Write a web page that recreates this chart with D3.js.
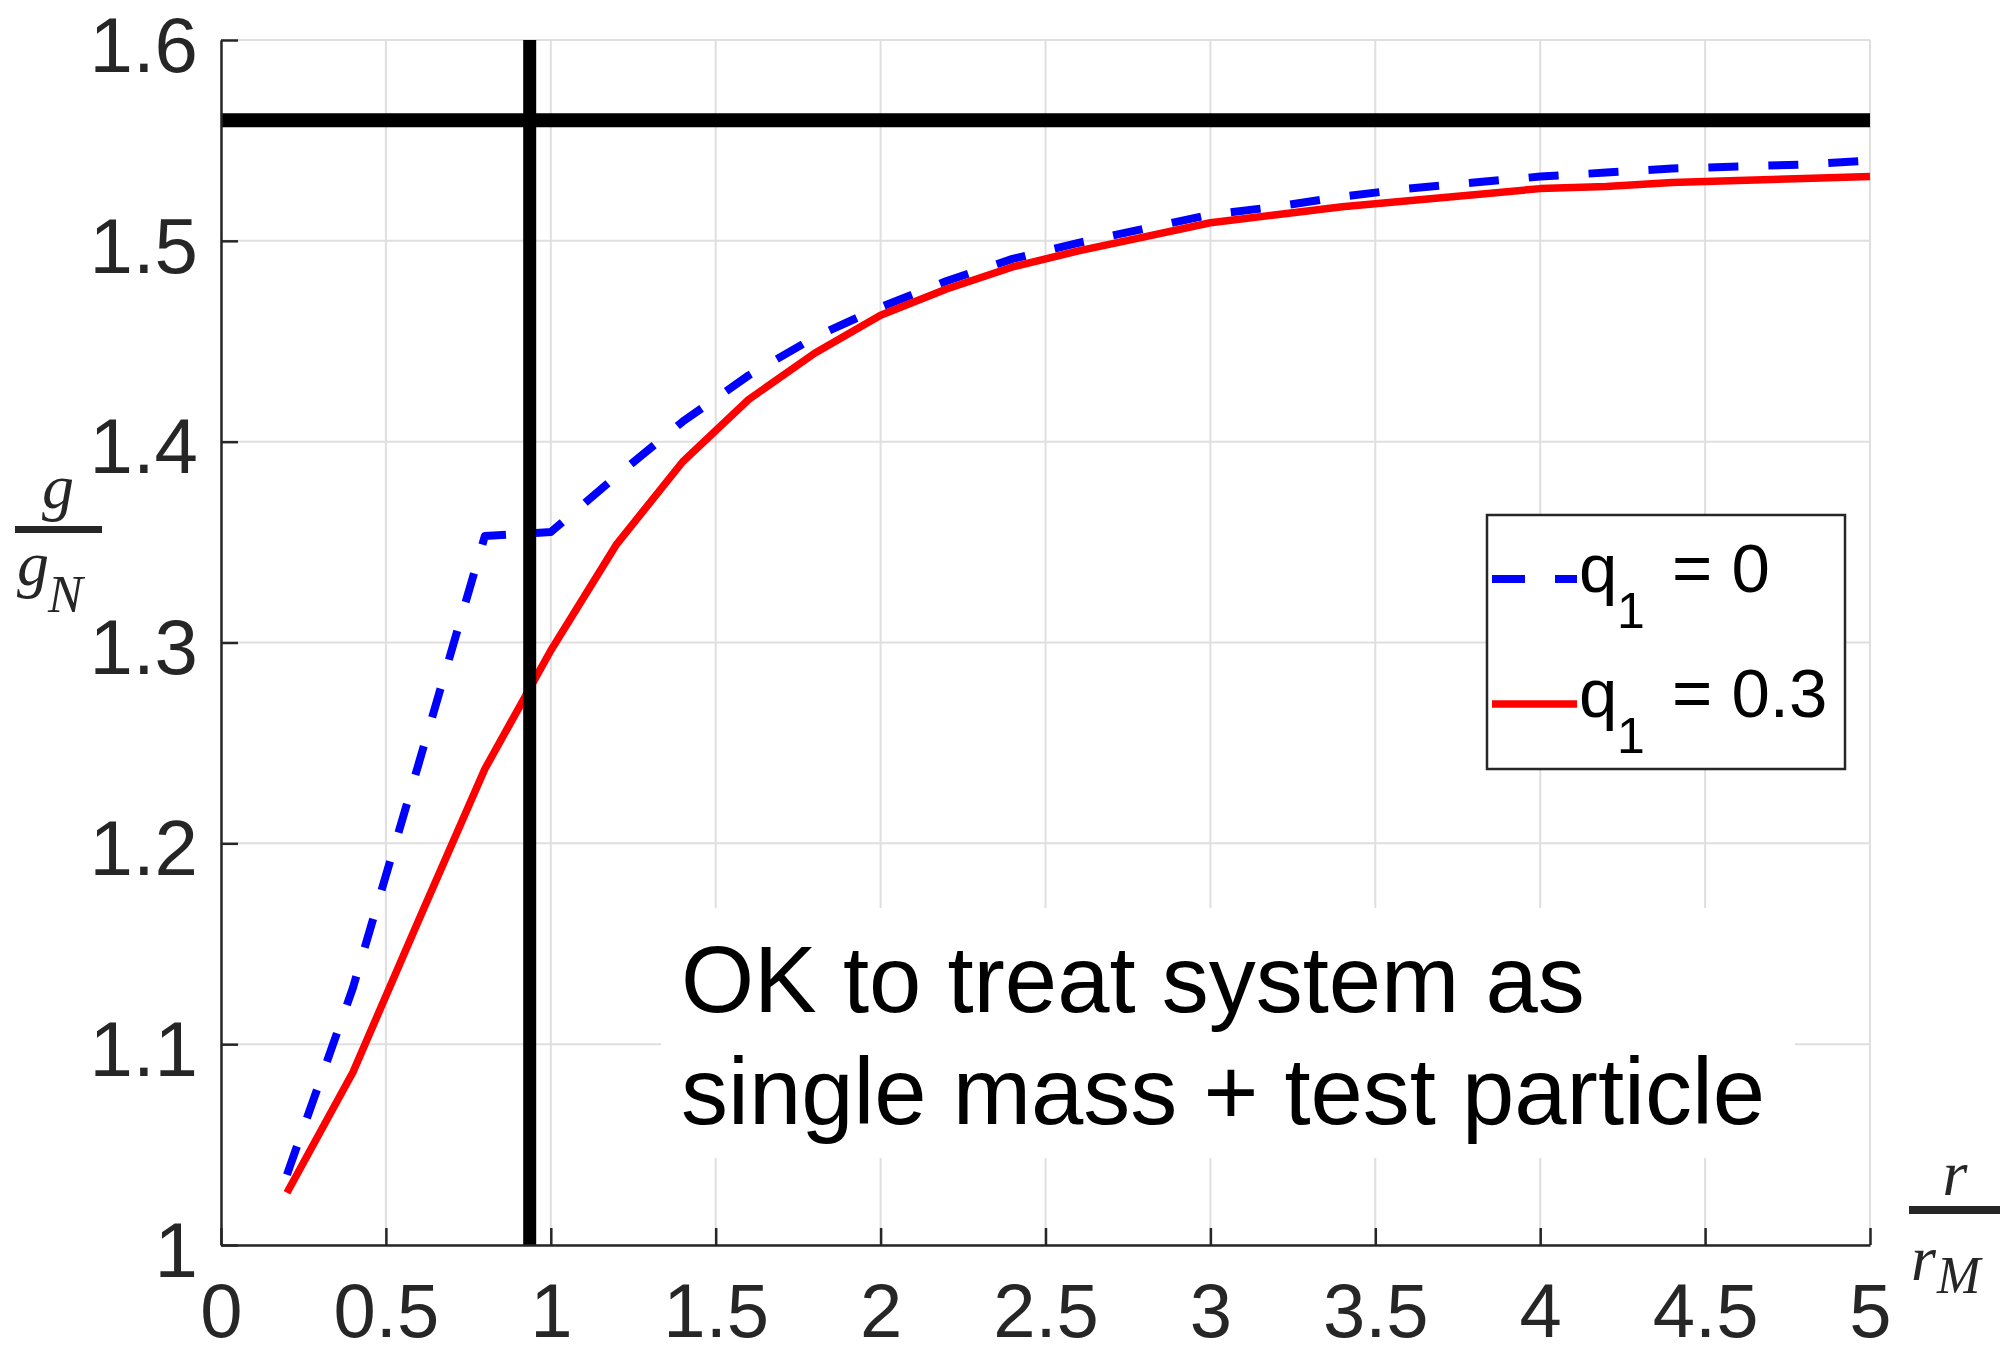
<!DOCTYPE html>
<html>
<head>
<meta charset="utf-8">
<script src="https://cdn.jsdelivr.net/npm/d3@7"></script>
<style>
  html, body { margin: 0; padding: 0; background: #ffffff; }
  svg { display: block; }
</style>
</head>
<body>
<svg id="chart" width="2000" height="1354"></svg>
<script>
// ---------------- data ----------------
const rValues = [0.2, 0.4, 0.6, 0.8, 1.0, 1.2, 1.4, 1.6, 1.8, 2.0, 2.2, 2.4, 2.6, 2.8, 3.0,
                 3.2, 3.4, 3.6, 3.8, 4.0, 4.2, 4.4, 4.6, 4.8, 5.0];
const gRatioQ0 = [1.035, 1.128, 1.240, 1.353, 1.355, 1.383, 1.410, 1.433, 1.452, 1.467,
                  1.480, 1.491, 1.499, 1.506, 1.513, 1.517, 1.522, 1.526, 1.529, 1.532,
                  1.534, 1.536, 1.537, 1.538, 1.540];
const gRatioQ03 = [1.026, 1.086, 1.162, 1.237, 1.296, 1.349, 1.390, 1.421, 1.444, 1.463,
                   1.476, 1.487, 1.495, 1.502, 1.509, 1.513, 1.517, 1.520, 1.523, 1.526,
                   1.527, 1.529, 1.530, 1.531, 1.532];
const seriesNames = ["q1 = 0", "q1 = 0.3"];
const limitValue = 1.56;      // horizontal black line
const thresholdR = 0.936;     // vertical black line
const xTickValues = [0, 0.5, 1, 1.5, 2, 2.5, 3, 3.5, 4, 4.5, 5];
const xTickLabels = ["0", "0.5", "1", "1.5", "2", "2.5", "3", "3.5", "4", "4.5", "5"];
const yTickValues = [1, 1.1, 1.2, 1.3, 1.4, 1.5, 1.6];
const yTickLabels = ["1", "1.1", "1.2", "1.3", "1.4", "1.5", "1.6"];
const annotationLines = ["OK to treat system as", "single mass + test particle"];

// ---------------- layout ----------------
const svg = d3.select("#chart");
const L = 221, R = 1870, T = 40, B = 1245;
const x = d3.scaleLinear().domain([0, 5]).range([L, R]);
const y = d3.scaleLinear().domain([1, 1.6]).range([B, T]);
const axisColor = "#262626";
const sans = "'Liberation Sans', Arial, sans-serif";
const serif = "'Liberation Serif', 'Times New Roman', serif";

// grid
const grid = svg.append("g");
grid.selectAll("line.vx").data(xTickValues).join("line")
  .attr("x1", d => x(d)).attr("x2", d => x(d))
  .attr("y1", T).attr("y2", B)
  .attr("stroke", "#dfdfdf").attr("stroke-width", 2);
grid.selectAll("line.hy").data(yTickValues).join("line")
  .attr("x1", L).attr("x2", R)
  .attr("y1", d => y(d)).attr("y2", d => y(d))
  .attr("stroke", "#dfdfdf").attr("stroke-width", 2);

// annotation background (covers grid)
svg.append("rect").attr("x", 661).attr("y", 908).attr("width", 1134).attr("height", 250)
  .attr("fill", "#ffffff");

// curves
const line = d3.line().x(d => x(d[0])).y(d => y(d[1]));
const blueData = rValues.map((r, i) => [r, gRatioQ0[i]]);
const redData = rValues.map((r, i) => [r, gRatioQ03[i]]);
svg.append("path").datum(blueData).attr("d", line)
  .attr("fill", "none").attr("stroke", "#0000ff").attr("stroke-width", 8)
  .attr("stroke-dasharray", "30,30").attr("stroke-linejoin", "round");
svg.append("path").datum(redData).attr("d", line)
  .attr("fill", "none").attr("stroke", "#ff0000").attr("stroke-width", 7.5)
  .attr("stroke-linejoin", "round");

// reference lines
svg.append("line").attr("x1", x(0)).attr("x2", x(5))
  .attr("y1", y(limitValue)).attr("y2", y(limitValue))
  .attr("stroke", "#000").attr("stroke-width", 14);
svg.append("line").attr("x1", x(thresholdR)).attr("x2", x(thresholdR))
  .attr("y1", y(1.6)).attr("y2", y(1))
  .attr("stroke", "#000").attr("stroke-width", 13);

// axes
const yAxis = d3.axisLeft(y).tickValues(yTickValues)
  .tickFormat((d, i) => yTickLabels[i]).tickSizeInner(-17).tickSizeOuter(0).tickPadding(23);
const xAxis = d3.axisBottom(x).tickValues(xTickValues)
  .tickFormat((d, i) => xTickLabels[i]).tickSizeInner(-17).tickSizeOuter(0).tickPadding(36);

const gy = svg.append("g").attr("transform", `translate(${L},0)`).call(yAxis);
const gx = svg.append("g").attr("transform", `translate(0,${B})`).call(xAxis);
[gx, gy].forEach(g => {
  g.select(".domain").attr("stroke", axisColor).attr("stroke-width", 2.5);
  g.selectAll(".tick line").attr("stroke", axisColor).attr("stroke-width", 2.5);
  g.selectAll(".tick text").attr("fill", axisColor)
    .style("font-family", sans).style("font-size", "78px");
});
gy.selectAll(".tick text").attr("dy", "0.40em");
gx.selectAll(".tick text").style("font-size", "76px").attr("dy", "0.74em");

// y label: g / g_N
const yl = svg.append("g").attr("fill", axisColor).style("font-family", serif).style("font-style", "italic");
yl.append("text").attr("x", 58).attr("y", 508).attr("text-anchor", "middle")
  .style("font-size", "64px").text("g");
yl.append("rect").attr("x", 15).attr("y", 526).attr("width", 87).attr("height", 7);
yl.append("text").attr("x", 17).attr("y", 585).style("font-size", "64px").text("g");
yl.append("text").attr("x", 48).attr("y", 612).style("font-size", "52px").text("N");

// x label: r / r_M
const xl = svg.append("g").attr("fill", axisColor).style("font-family", serif).style("font-style", "italic");
xl.append("text").attr("x", 1955).attr("y", 1195).attr("text-anchor", "middle")
  .style("font-size", "64px").text("r");
xl.append("rect").attr("x", 1909).attr("y", 1206).attr("width", 91).attr("height", 8);
xl.append("text").attr("x", 1911).attr("y", 1280).style("font-size", "64px").text("r");
xl.append("text").attr("x", 1937).attr("y", 1293).style("font-size", "52px").text("M");

// legend
const lg = svg.append("g");
lg.append("rect").attr("x", 1487).attr("y", 515).attr("width", 358).attr("height", 254)
  .attr("fill", "#fff").attr("stroke", axisColor).attr("stroke-width", 2.5);
const legendRows = [
  { y: 579, color: "#0000ff", dash: "33,30", width: 8, name: seriesNames[0] },
  { y: 704, color: "#ff0000", dash: null, width: 7.5, name: seriesNames[1] }
];
legendRows.forEach(row => {
  lg.append("line").attr("x1", 1492).attr("x2", 1577).attr("y1", row.y).attr("y2", row.y)
    .attr("stroke", row.color).attr("stroke-width", row.width)
    .attr("stroke-dasharray", row.dash);
  const parts = row.name.split(" = ");
  const base = row.y + 13;
  lg.append("text").attr("x", 1579).attr("y", base).attr("fill", "#000")
    .style("font-family", sans).style("font-size", "69px").text(parts[0].charAt(0));
  lg.append("text").attr("x", 1617).attr("y", base + 36).attr("fill", "#000")
    .style("font-family", sans).style("font-size", "50px").text(parts[0].slice(1));
  lg.append("text").attr("x", 1672).attr("y", base).attr("fill", "#000")
    .style("font-family", sans).style("font-size", "69px").text("= " + parts[1]);
});

// annotation text
svg.selectAll("text.annot").data(annotationLines).join("text")
  .attr("class", "annot")
  .attr("x", 681).attr("y", (d, i) => 1012 + i * 112)
  .attr("fill", "#000").style("font-family", sans).style("font-size", "94px")
  .text(d => d);
</script>
</body>
</html>
